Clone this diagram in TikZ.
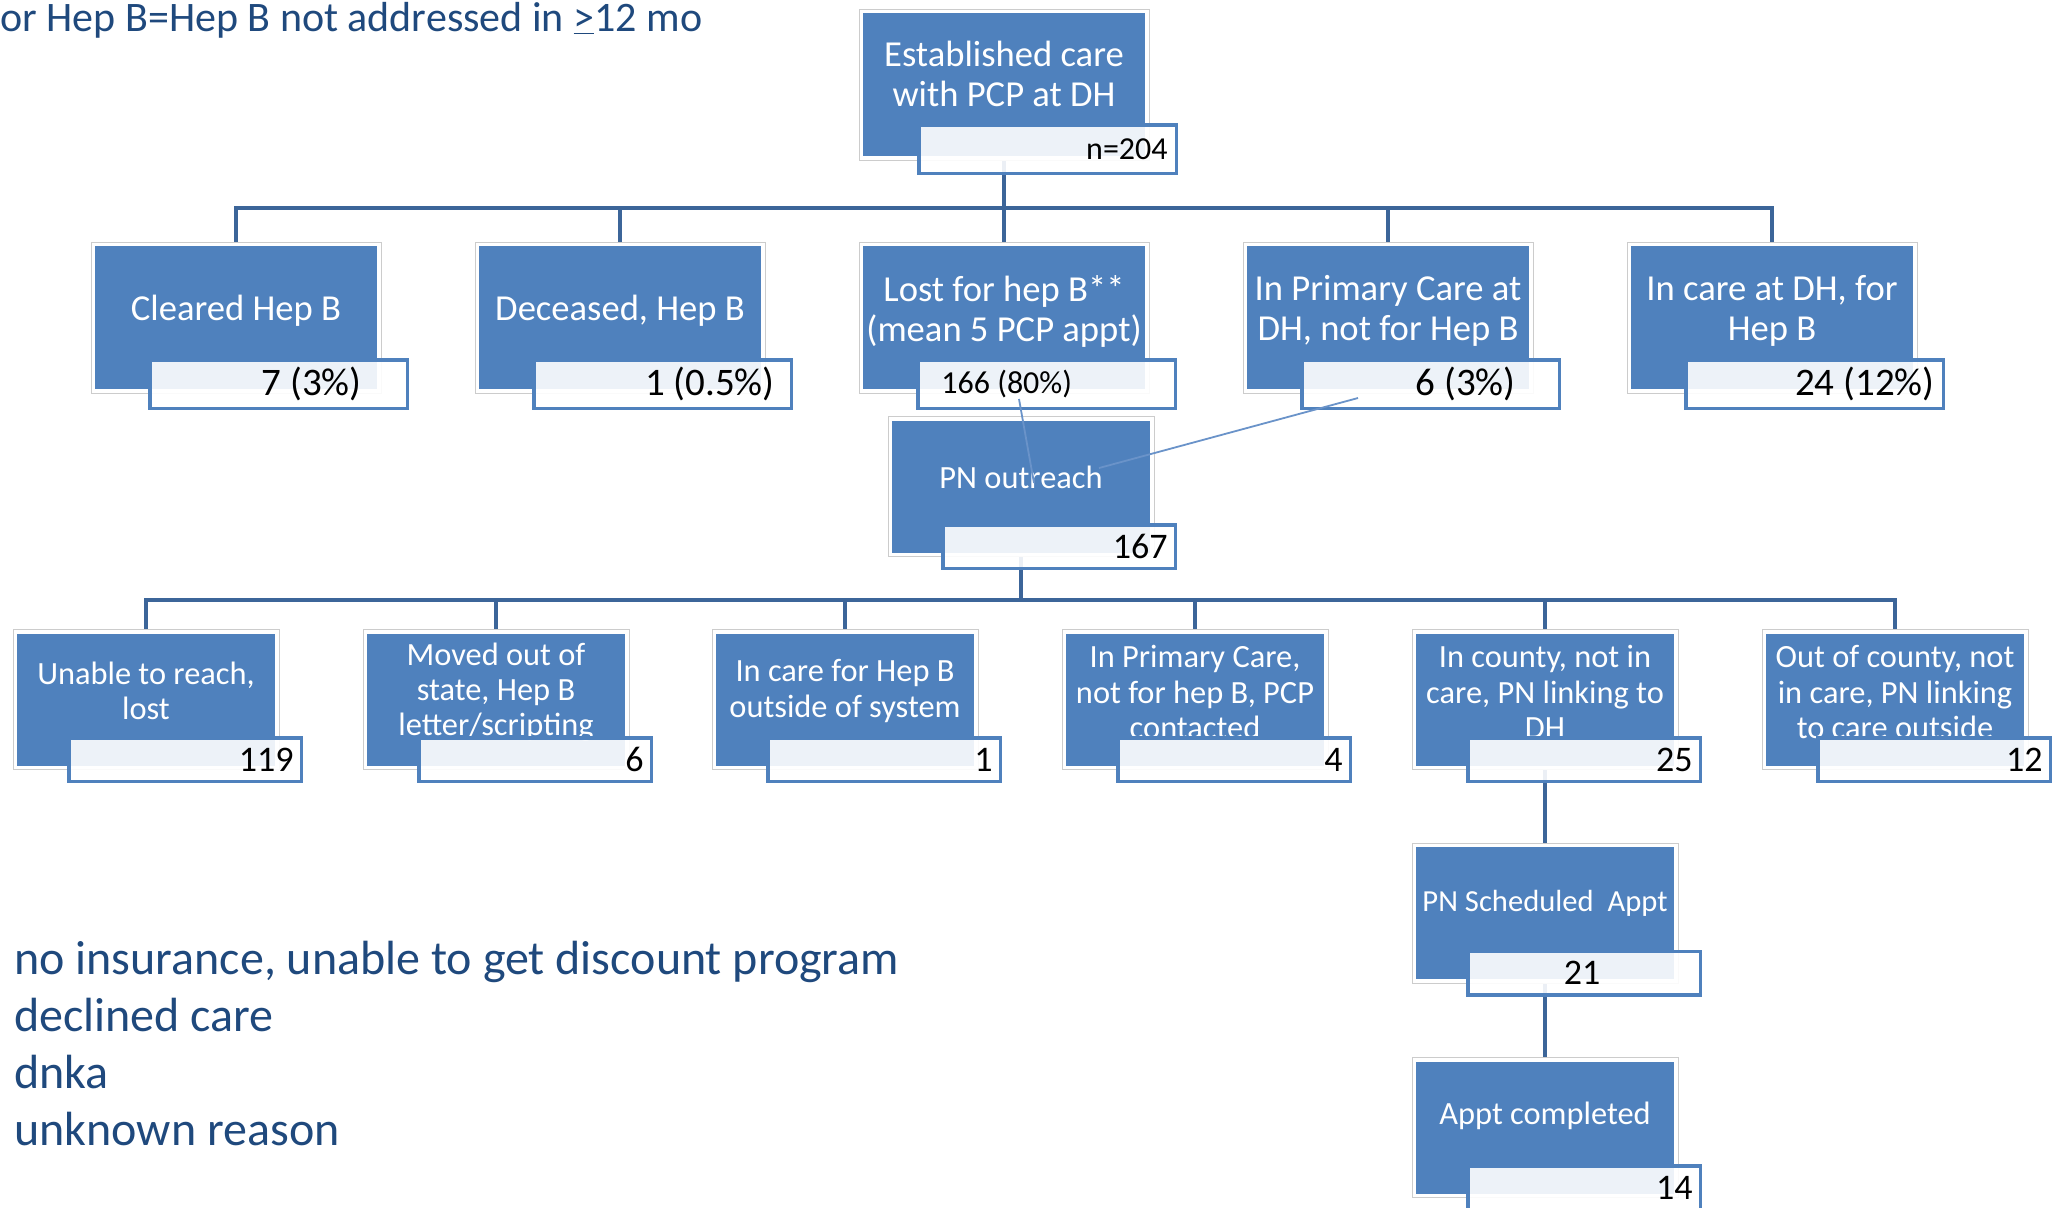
\documentclass[tikz,border=0pt]{standalone}
\usepackage{fontspec}
\setmainfont{Carlito}
\usetikzlibrary{backgrounds}
\definecolor{hepblue}{HTML}{4F81BD}
\definecolor{busblue}{HTML}{3C6599}
\definecolor{txtblue}{HTML}{1F497D}
\definecolor{thinblue}{HTML}{6A93C9}
\begin{document}
\begin{tikzpicture}[x=0.5pt,y=-0.5pt,
 boxbase/.style={rectangle, fill=hepblue, draw=white, line width=1.75pt, preaction={draw=black!20, line width=2.75pt}, inner sep=0pt, outer sep=0pt},
 bigbox/.style={boxbase, minimum width=142.75pt, minimum height=73.25pt},
 smallbox/.style={boxbase, minimum width=130.75pt, minimum height=67.75pt},
 labbase/.style={rectangle, draw=hepblue, line width=1.75pt, fill=white, fill opacity=0.9, inner sep=0pt, outer sep=0pt},
 biglab/.style={labbase, minimum width=128.75pt, minimum height=24.25pt},
 smalllab/.style={labbase, minimum width=116.25pt, minimum height=21.75pt},
 bigtxt/.style={text=white, align=center, inner sep=0pt, font=\fontsize{18.3}{20}\selectfont},
 smalltxt/.style={text=white, align=center, inner sep=0pt, font=\fontsize{16.2}{17.7}\selectfont},
 bignum/.style={text=black, inner sep=0pt, anchor=east, font=\fontsize{19.5}{22}\selectfont},
 midnum/.style={text=black, inner sep=0pt, font=\fontsize{16}{18}\selectfont},
 smallnum/.style={text=black, inner sep=0pt, anchor=east, font=\fontsize{18}{20}\selectfont},
 bus/.style={draw=busblue, line width=2.2pt},
 thinline/.style={draw=thinblue, line width=0.9pt},
 note/.style={text=txtblue, inner sep=0pt, anchor=base west, font=\fontsize{24}{28}\selectfont}]
\useasboundingbox (0,0) rectangle (2060,1207);

% header note
\node[text=txtblue, inner sep=0pt, anchor=base west, font=\fontsize{21}{25}\selectfont] (hdr) at (0,31) {or Hep B=Hep B not addressed in \underline{>}12 mo};

% top box
\node[bigbox] (top) at (1004,84.5) {};
\node[bigtxt] (toptxt) at (1004,74) {Established care\\with PCP at DH};
\node[biglab] (toplab) at (1047.5,149) {};
\node[midnum, anchor=east] (topnum) at (1168,149) {n=204};

% row 1
\node[bigbox] (cleared) at (236,317.5) {};
\node[bigtxt] (clearedtxt) at (236,311) {Cleared Hep B};
\node[biglab] (clearedlab) at (278.5,384) {};
\node[bignum] (clearednum) at (362,384) {7 (3\%)};

\node[bigbox] (deceased) at (620,317.5) {};
\node[bigtxt] (deceasedtxt) at (620,311) {Deceased, Hep B};
\node[biglab] (deceasedlab) at (662.5,384) {};
\node[bignum] (deceasednum) at (775,384) {1 (0.5\%)};

\node[bigbox] (lost) at (1004,317.5) {};
\node[bigtxt] (losttxt) at (1004,311) {Lost for hep B**\\(mean 5 PCP appt)};
\node[biglab] (lostlab) at (1046.5,384) {};
\node[midnum, anchor=west] (lostnum) at (941,384) {166 (80\%)};

\node[bigbox] (primary) at (1388,317.5) {};
\node[bigtxt] (primarytxt) at (1388,311) {In Primary Care at\\DH, not for Hep B};
\node[biglab] (primarylab) at (1430.5,384) {};
\node[bignum] (primarynum) at (1516,384) {6 (3\%)};

\node[bigbox] (incare) at (1772,317.5) {};
\node[bigtxt] (incaretxt) at (1772,311) {In care at DH, for\\Hep B};
\node[biglab] (incarelab) at (1814.5,384) {};
\node[bignum] (incarenum) at (1935,384) {24 (12\%)};

% PN outreach
\node[smallbox] (pn) at (1021,486.5) {};
\node[smalltxt] (pntxt) at (1021,477) {PN outreach};
\node[smalllab] (pnlab) at (1059,546.5) {};
\node[smallnum] (pnnum) at (1168,546.5) {167};

% row 2
\node[smallbox] (unable) at (146,699.5) {};
\node[smalltxt] (unabletxt) at (146,691) {Unable to reach,\\lost};
\node[smalllab] (unablelab) at (185,759.5) {};
\node[smallnum] (unablenum) at (294,759.5) {119};

\node[smallbox] (moved) at (496,699.5) {};
\node[smalltxt] (movedtxt) at (496,692) {Moved out of\\state, Hep B\\letter/scripting};
\node[smalllab] (movedlab) at (535,759.5) {};
\node[smallnum] (movednum) at (644,759.5) {6};

\node[smallbox] (outside) at (845,699.5) {};
\node[smalltxt] (outsidetxt) at (845,691) {In care for Hep B\\outside of system};
\node[smalllab] (outsidelab) at (884,759.5) {};
\node[smallnum] (outsidenum) at (993,759.5) {1};

\node[smallbox] (pcp) at (1195,699.5) {};
\node[smalltxt] (pcptxt) at (1195,692) {In Primary Care,\\not for hep B, PCP\\contacted};
\node[smalllab] (pcplab) at (1234,759.5) {};
\node[smallnum] (pcpnum) at (1343,759.5) {4};

\node[smallbox] (county) at (1545,699.5) {};
\node[smalltxt] (countytxt) at (1545,692) {In county, not in\\care, PN linking to\\DH};
\node[smalllab] (countylab) at (1584,759.5) {};
\node[smallnum] (countynum) at (1693,759.5) {25};

\node[smallbox] (outcounty) at (1895,699.5) {};
\node[smalltxt] (outcountytxt) at (1895,692) {Out of county, not\\in care, PN linking\\to care outside};
\node[smalllab] (outcountylab) at (1934,759.5) {};
\node[smallnum] (outcountynum) at (2043,759.5) {12};

% scheduled / completed
\node[smallbox] (sched) at (1545,913) {};
\node[smalltxt, font=\fontsize{15.3}{17}\selectfont] (schedtxt) at (1545,903) {PN Scheduled~ Appt};
\node[smalllab] (schedlab) at (1584,973) {};
\node[smallnum, anchor=center] (schednum) at (1582,973) {21};

\node[smallbox] (appt) at (1545,1127.5) {};
\node[smalltxt] (appttxt) at (1545,1116) {Appt completed};
\node[smalllab] (apptlab) at (1584,1187.5) {};
\node[smallnum] (apptnum) at (1693,1187.5) {14};

% notes
\node[note] (note1) at (14,974) {no insurance, unable to get discount program};
\node[note] (note2) at (14,1031) {declined care};
\node[note] (note3) at (14,1088) {dnka};
\node[note] (note4) at (14,1145) {unknown reason};

% bus connectors
\coordinate (bus1) at (0,208);
\coordinate (bus2) at (0,600);
\begin{scope}[on background layer]
\draw[bus] (top.south) -- (top.south |- bus1) -| (cleared.north);
\draw[bus] (top.south |- bus1) -| (deceased.north);
\draw[bus] (top.south |- bus1) -- (lost.north);
\draw[bus] (top.south |- bus1) -| (primary.north);
\draw[bus] (top.south |- bus1) -| (incare.north);
\draw[bus] (pn.south) -- (pn.south |- bus2) -| (unable.north);
\draw[bus] (pn.south |- bus2) -| (moved.north);
\draw[bus] (pn.south |- bus2) -| (outside.north);
\draw[bus] (pn.south |- bus2) -| (pcp.north);
\draw[bus] (pn.south |- bus2) -| (county.north);
\draw[bus] (pn.south |- bus2) -| (outcounty.north);
\draw[bus] (county.south) -- (sched.north);
\draw[bus] (sched.south) -- (appt.north);
\end{scope}

% thin links into PN outreach
\coordinate (lostpt) at (1019,399);
\coordinate (pnend1) at (1034,483);
\coordinate (dhpt) at (1358,398);
\coordinate (pnend2) at (1099,468);
\draw[thinline] (lostpt) -- (pnend1);
\draw[thinline] (dhpt) -- (pnend2);
\end{tikzpicture}
\end{document}
